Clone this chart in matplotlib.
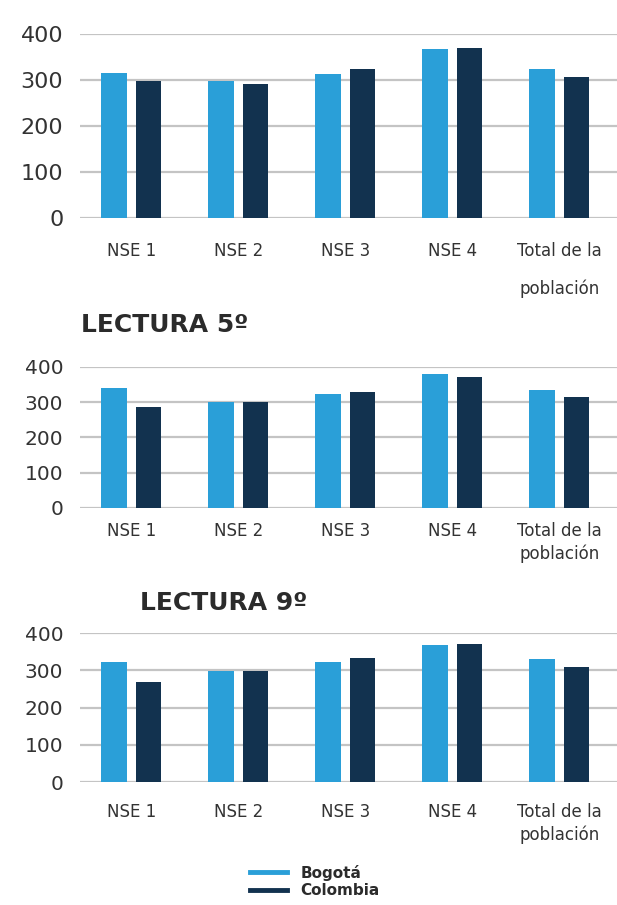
import matplotlib.pyplot as plt
from matplotlib.lines import Line2D
import numpy as np

categorias = ["NSE 1", "NSE 2", "NSE 3", "NSE 4", "Total de la\npoblación"]
series = ["Bogotá", "Colombia"]

# Panel superior (título recortado en la imagen)
bogota_1 = [315, 298, 313, 367, 324]
colombia_1 = [298, 291, 324, 370, 306]

# Lectura 5º
bogota_5 = [340, 300, 323, 379, 336]
colombia_5 = [286, 300, 330, 372, 314]

# Lectura 9º
bogota_9 = [323, 298, 323, 369, 331]
colombia_9 = [268, 298, 333, 370, 308]

azul_claro = "#2a9fd8"
azul_oscuro = "#12324f"
gris_texto = "#333333"

fig = plt.figure(figsize=(6.17, 9.05), dpi=100)

paneles = [
    # (bogota, colombia, [left, bottom, width, height], pad etiquetas, interlineado, tamaño y)
    (bogota_1, colombia_1, [0.1297, 0.759, 0.8703, 0.2033], 17, 2.35, 16),
    (bogota_5, colombia_5, [0.1297, 0.4387, 0.8703, 0.1558], 10, 1.3, 14.5),
    (bogota_9, colombia_9, [0.1297, 0.1359, 0.8703, 0.1646], 15, 1.35, 14.5),
]

x = np.arange(len(categorias))
ancho = 0.24
for bog, col, pos, pad, interl, ysize in paneles:
    ax = fig.add_axes(pos)
    ax.bar(x - 0.16, bog, ancho, color=azul_claro, zorder=3)
    ax.bar(x + 0.16, col, ancho, color=azul_oscuro, zorder=3)
    ax.set_xlim(-0.48, 4.54)
    ax.set_ylim(0, 400)
    ax.set_yticks([0, 100, 200, 300, 400])
    ax.yaxis.grid(True, color="#c4c4c4", linewidth=1.6, zorder=0)
    ax.set_axisbelow(True)
    for s in ax.spines.values():
        s.set_visible(False)
    ax.set_xticks(x)
    ax.set_xticklabels(categorias, fontsize=12, color=gris_texto, linespacing=interl)
    ax.tick_params(axis="x", length=0, pad=pad)
    ax.tick_params(axis="y", length=0, pad=12, labelsize=ysize, labelcolor=gris_texto)

fig.text(0.131, 0.641, "LECTURA 5º", fontsize=18, fontweight="bold",
         color="#2b2b2b", va="center", ha="left")
fig.text(0.227, 0.334, "LECTURA 9º", fontsize=18, fontweight="bold",
         color="#2b2b2b", va="center", ha="left")

handles = [Line2D([0], [0], color=azul_claro, linewidth=3.5),
           Line2D([0], [0], color=azul_oscuro, linewidth=3.5)]
leg = fig.legend(handles, series, loc="center", bbox_to_anchor=(0.51, 0.026),
                 frameon=False, handlelength=2.4, labelspacing=0.15,
                 handletextpad=0.9, prop={"weight": "bold", "size": 11})
for t in leg.get_texts():
    t.set_color("#2b2b2b")

fig.savefig("out.png", dpi=100, facecolor="white")
